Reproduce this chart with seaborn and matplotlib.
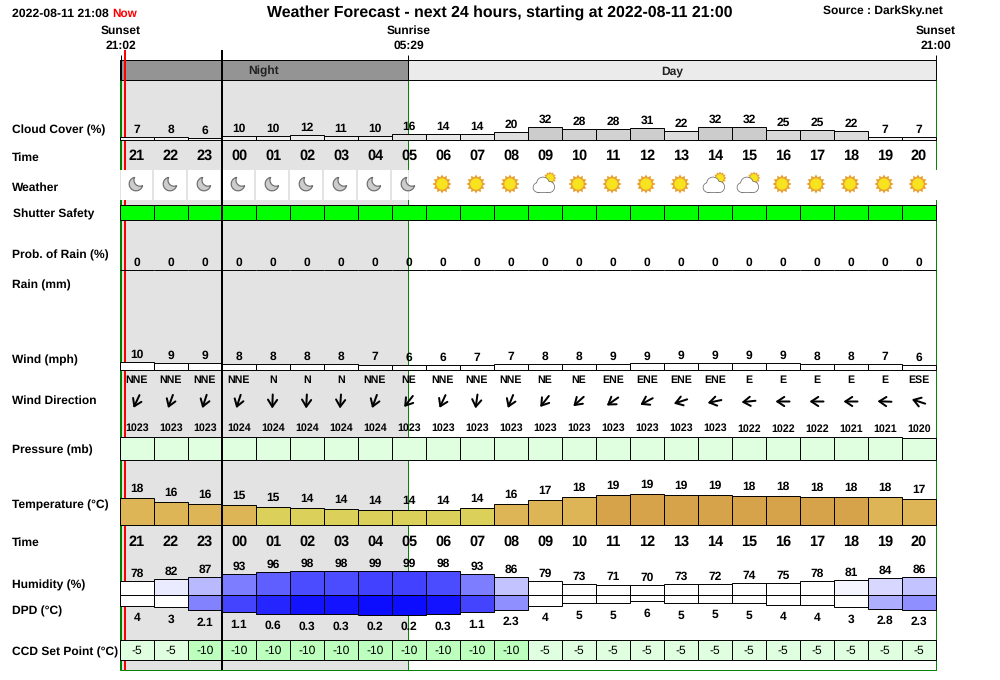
import numpy as np
import pandas as pd
import matplotlib
matplotlib.use("Agg")
import matplotlib.pyplot as plt
from matplotlib.patches import Circle, Polygon, Rectangle
import seaborn as sns
import sys

hours = ["21","22","23","00","01","02","03","04","05","06","07","08",
         "09","10","11","12","13","14","15","16","17","18","19","20"]
cloud_pct = [7,8,6,10,10,12,11,10,16,14,14,20,32,28,28,31,22,32,32,25,25,22,7,7]
weather = ["moon"]*9 + ["sun"]*3 + ["part"] + ["sun"]*4 + ["part","part"] + ["sun"]*5
rain_prob = [0]*24
wind_mph = [10.4,9.4,9.2,8.4,8.4,8.4,7.6,7.3,6.4,6.4,6.6,7.4,7.6,8.4,8.6,8.7,8.8,8.8,8.8,8.8,8.4,7.6,7.4,6.4]
wind_dir = ["NNE","NNE","NNE","NNE","N","N","N","NNE","NE","NNE","NNE","NNE","NE","NE",
            "ENE","ENE","ENE","ENE","E","E","E","E","E","ESE"]
wind_bearing = [25,20,18,18,2,3,4,20,38,25,8,22,38,48,55,62,72,78,84,90,90,90,92,108]
pressure_mb = [1023,1023,1023,1024,1024,1024,1024,1024,1023,1023,1023,1023,
               1023,1023,1023,1023,1023,1023,1022,1022,1022,1021,1021,1020]
temp_c = [17.83,16.4,15.83,15.4,14.83,14.4,14.17,13.83,13.83,13.83,14.4,15.83,
          17.17,18.12,18.83,19.17,18.83,18.83,18.4,18.4,18.2,18.2,18.12,17.4]
humidity = [78,82,87,93,96,98,98,99,99,98,93,86,79,73,71,70,73,72,74,75,78,81,84,86]
dpd_c = [4.0,3.4,2.1,1.1,0.6,0.3,0.3,0.2,0.2,0.3,1.1,2.3,4.0,5.1,5.1,6.0,5.1,5.4,5.1,4.4,4.2,3.4,2.8,2.3]
ccd_setpoint = [-5,-5]+[-10]*10+[-5]*12
shutter_ok = [1]*24
row_names = ["Cloud Cover (%)","Time","Weather","Shutter Safety","Prob. of Rain (%)","Rain (mm)",
             "Wind (mph)","Wind Direction","Pressure (mb)","Temperature (°C)","Time",
             "Humidity (%)","DPD (°C)","CCD Set Point (°C)"]
now_h, sunset_h, sunrise_h, sunset2_h, midnight_h = 8/60, 2/60, 8+29/60, 24, 3

sns.set_style("white")
plt.rcParams["font.family"] = ["Liberation Sans", "DejaVu Sans"]
plt.rcParams["text.hinting"] = "no_hinting"
W, H = 1000, 680
fig = plt.figure(figsize=(W/100, H/100), dpi=100, facecolor="white")
LW1 = 0.7
PX = 0.72
X0, STEP = 120.0, 34.0
def sx(i): return X0 + STEP*i

def layer(z):
    a = fig.add_axes([0, 0, 1, 1], zorder=z)
    a.set_xlim(0, W); a.set_ylim(H, 0); a.set_axis_off(); a.patch.set_alpha(0)
    return a
bg = layer(0)
top = layer(5)

def txt(x, y, s, size=12, bold=True, ha="center", color="black"):
    top.text(x, y+0.8, s, fontsize=size*PX, fontweight="bold" if bold else "normal",
             ha=ha, va="center", color=color)

def bars(values, base, units_per_px, colors):
    """Bars growing from pixel row `base`; units_per_px sets the axes' own value scale."""
    span = 40
    a = fig.add_axes([X0/W, 1-(base+span)/H, STEP*24/W, 2*span/H], zorder=2)
    a.patch.set_alpha(0)
    df = pd.DataFrame({"slot": hours, "v": values})
    sns.barplot(data=df, x="slot", y="v", hue="slot", order=hours, hue_order=hours,
                palette=dict(zip(hours, colors)), width=1.0, dodge=False, legend=False,
                edgecolor="black", linewidth=LW1, saturation=1, errorbar=None, ax=a)
    a.set_xlim(-0.5, 23.5)
    a.set_ylim(-span*units_per_px, span*units_per_px)
    a.set_axis_off()
    for p in a.patches:
        p.set_clip_on(False)
    return a

def gray(v):
    return str(1 - (v*1.6)/255)
def temp_col(t):
    if t < 15: return "#DAD05A"
    if t < 18.15: return "#DDB557"
    return "#D6A24A"
def hum_col(r):
    c = np.clip(255 - 10*(r-80), 0, 255)/255
    return (c, c, 1.0)
def dpd_col(d):
    if d >= 3: return "white"
    c = np.clip(62*d, 0, 255)/255
    return (c, c, 1.0)
def ccd_col(c):
    return "#E0FFE0" if c == -5 else "#BDFFBD"

# background: night shading and day/night header
rise_x = sx(sunrise_h)
bg.add_patch(Rectangle((X0, 80), rise_x-X0, 590, fc="#E3E3E3", ec="none", zorder=1))
bg.add_patch(Rectangle((X0, 60), rise_x-X0, 20, fc="#949494", ec="black", lw=LW1, zorder=4))
bg.add_patch(Rectangle((rise_x, 60), sx(24)-rise_x, 20, fc="#EBEBEB", ec="black", lw=LW1, zorder=4))
bg.plot([X0+1]*2, [60, 80], color="black", lw=2*PX, zorder=5, solid_capstyle="butt")
# sun and now lines
for h, lw in [(sunset_h, 2*PX), (sunrise_h, LW1), (sunset2_h, LW1)]:
    bg.plot([sx(h)]*2, [80, 670], color="green", lw=lw, zorder=3, solid_capstyle="butt")
    bg.plot([sx(h)]*2, [55, 60], color="black", lw=LW1, zorder=3, solid_capstyle="butt")
bg.plot([X0, sx(24)], [670]*2, color="green", lw=LW1, zorder=3)
bg.plot([sx(now_h)]*2, [50, 670], color="red", lw=2*PX, zorder=6, solid_capstyle="butt")
top.plot([sx(midnight_h)]*2, [50, 670], color="black", lw=2*PX, zorder=6, solid_capstyle="butt")

# weather row
bg.add_patch(Rectangle((rise_x, 170), sx(24)-rise_x+1, 30, fc="white", ec="none", zorder=7))
bg.add_patch(Rectangle((X0, 170), rise_x-X0+0.6, 30, fc="#E3E3E3", ec="none", zorder=7))
for i in range(9):
    x0 = sx(i) + (1 if i == 0 else 0)
    x1 = min(sx(i)+32, rise_x)
    bg.add_patch(Rectangle((x0, 170), x1-x0, 30, fc="white", ec="none", zorder=8))

def moon(cx, cy, R=6.8, r=6.0, ox=4.0, oy=-3.8):
    d = np.hypot(ox, oy)
    phi = np.arctan2(oy, ox)
    alpha = np.arccos((d*d+R*R-r*r)/(2*d*R))
    beta = np.arccos((d*d+r*r-R*R)/(2*d*r))
    t1 = np.linspace(phi+alpha, phi+2*np.pi-alpha, 40)
    t2 = np.linspace(phi+np.pi+beta, phi+np.pi-beta, 24)
    pts = np.r_[np.c_[cx+R*np.cos(t1), cy+R*np.sin(t1)],
                np.c_[cx+ox+r*np.cos(t2), cy+oy+r*np.sin(t2)]]
    top.add_patch(Polygon(pts, closed=True, fc="#CCCCCC", ec="#6E6E6E", lw=1.2*PX, zorder=3))
def sun(cx, cy, r=9.5):
    th = np.linspace(0, 2*np.pi, 25)[:-1]
    rr = np.where(np.arange(24) % 2 == 0, r, r*0.72)
    top.add_patch(Polygon(np.c_[cx+rr*np.cos(th), cy+rr*np.sin(th)], fc="#E8A030", ec="none", zorder=3))
    top.add_patch(Circle((cx, cy), r*0.6, fc="#F8E41E", ec="none", zorder=4))
def partly(cx, cy):
    sun(cx+6, cy-6, 6.5)
    parts = [(-6, 3.5, 4.5), (-1, -0.5, 6), (5, 3, 5.2)]
    for lw, fc, z in [(2.2, "#6E6E6E", 5), (0, "white", 6)]:
        for dx, dy, r in parts:
            top.add_patch(Circle((cx+dx, cy+dy), r, fc=fc, ec=fc, lw=lw*PX*0.7, zorder=z))
        top.add_patch(Rectangle((cx-6, cy+2), 11, 6.2, fc=fc, ec=fc, lw=lw*PX*0.7, zorder=z))
for i, k in enumerate(weather):
    cx = sx(i)+16
    {"moon": moon, "sun": sun, "part": partly}[k](cx, 184)

# bar rows (values drive heights through each axes' own scale)
B_CLOUD, K_CLOUD = 140, 1/0.4
bars(cloud_pct, B_CLOUD, K_CLOUD, [gray(v) for v in cloud_pct])
bars(shutter_ok, 220, 1/15, ["#00FF00"]*24)
bars(rain_prob, 270, 1.0, ["white"]*24)
B_WIND, K_WIND = 370, 1/0.75
bars(wind_mph, B_WIND, K_WIND, ["white"]*24)
P_REF, K_P = 930, 4.0
bars([p-P_REF for p in pressure_mb], 460, K_P, ["#E0FFE0"]*24)
T_REF, K_T, B_T = 8.83, 1/3, 525
bars([t-T_REF for t in temp_c], B_T, K_T, [temp_col(t) for t in temp_c])
C_Y = 595
bars([0.5*r-25 for r in humidity], C_Y, 1.0, [hum_col(r) for r in humidity])
bars([-(20-2.3*d) for d in dpd_c], C_Y, 1.0, [dpd_col(d) for d in dpd_c])
bars([20]*24, 660, 1.0, [ccd_col(c) for c in ccd_setpoint])

# value labels
for i in range(24):
    cx = sx(i) + 17
    txt(cx, B_CLOUD-cloud_pct[i]*0.4-8, str(cloud_pct[i]))
    txt(cx, 155.5, hours[i], 14.5)
    txt(cx, 262, str(rain_prob[i]))
    txt(cx, B_WIND-wind_mph[i]*0.75-8, str(round(wind_mph[i])))
    txt(cx, 379.5, wind_dir[i], 10.6)
    th = np.deg2rad(wind_bearing[i])
    d = np.array([np.sin(th), -np.cos(th)])
    c = np.array([cx-0.5, 401.5])
    top.annotate("", xy=c-d*7, xytext=c+d*7,
                 arrowprops=dict(arrowstyle="->,head_length=0.5,head_width=0.33", color="black",
                                 lw=2*PX, shrinkA=0, shrinkB=0))
    txt(cx, 427.5 + (1 if pressure_mb[i] < 1023 else 0), str(pressure_mb[i]), 10.6)
    txt(cx, B_T-(temp_c[i]-T_REF)*3-10, str(round(temp_c[i])))
    txt(cx, 541, hours[i], 14.5)
    txt(cx, C_Y-(0.5*humidity[i]-25)-8, str(humidity[i]))
    d_s = f"{dpd_c[i]:.1f}" if dpd_c[i] < 3 else str(round(dpd_c[i]))
    txt(cx, C_Y+(20-2.3*dpd_c[i])+11.5, d_s)
    txt(cx, 650, str(ccd_setpoint[i]), 12, bold=False)

# row names
row_y = [130, 157, 187, 214, 255, 285, 360, 400, 450, 504.5, 542, 585, 610.5, 652]
for name, y in zip(row_names, row_y):
    txt(13 if name == "Shutter Safety" else 12, y, name, 12, ha="left")

# header text
txt(12, 12.5, "2022-08-11 21:08", 12.2, ha="left")
txt(112, 12.5, "Now", 11.8, ha="left", color="red")
txt(500, 11.5, "Weather Forecast - next 24 hours, starting at 2022-08-11 21:00", 15.9)
txt(883, 11, "Source : DarkSky.net", 12)
for h, a, b in [(sunset_h, "Sunset", "21:02"), (sunrise_h, "Sunrise", "05:29"), (sunset2_h, "Sunset", "21:00")]:
    txt(sx(h), 30, a, 12)
    txt(sx(h), 45, b, 12)
txt(264, 70.5, "Night", 12, color="#222222")
txt(672, 70.5, "Day", 12, color="#222222")

fig.savefig("out.png", dpi=100, facecolor="white")
